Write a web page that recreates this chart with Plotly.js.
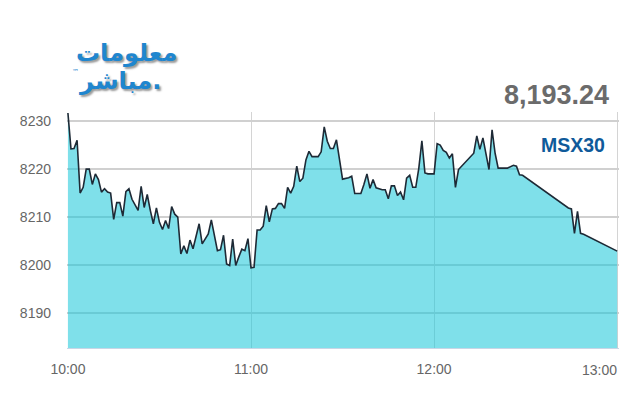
<!DOCTYPE html>
<html>
<head>
<meta charset="utf-8">
<script src="https://cdn.plot.ly/plotly-3.0.1.min.js"></script>
<style>html,body{margin:0;padding:0;background:#fff;}#chart{width:640px;height:400px;}</style>
</head>
<body>
<div id="chart"></div>
<script>
const times = ["10:00","10:01","10:02","10:03","10:04","10:05","10:06","10:07","10:08","10:09",
"10:10","10:11","10:12","10:13","10:14","10:15","10:16","10:17","10:18","10:19",
"10:20","10:21","10:23","10:24","10:25","10:26","10:27","10:28","10:29","10:30",
"10:31","10:32","10:33","10:34","10:35","10:36","10:37","10:38","10:39","10:40",
"10:41","10:43","10:44","10:46","10:47","10:48","10:49","10:50","10:51","10:52",
"10:53","10:54","10:55","10:56","10:57","10:58","10:59","11:00","11:01","11:02",
"11:03","11:04","11:05","11:06","11:07","11:08","11:09","11:10","11:11","11:12",
"11:13","11:14","11:15","11:16","11:17","11:18","11:19","11:20","11:22","11:23",
"11:24","11:25","11:26","11:27","11:28","11:29","11:30","11:32","11:33","11:34",
"11:36","11:37","11:38","11:39","11:40","11:41","11:43","11:44","11:45","11:46",
"11:47","11:48","11:49","11:50","11:51","11:52","11:53","11:54","11:55","11:56",
"11:57","11:58","12:00","12:01","12:02","12:03","12:04","12:05","12:06","12:07",
"12:08","12:13","12:14","12:15","12:16","12:18","12:19","12:20","12:21","12:24",
"12:26","12:27","12:28","12:29","12:44","12:45","12:46","12:47","12:48","12:49",
"13:00"];
const values = [8231.7,8224.2,8224.3,8226.0,8215.0,8216.2,8220.0,8220.0,8216.8,8219.0,
8217.8,8215.2,8215.9,8215.2,8215.0,8209.5,8213.0,8213.0,8210.2,8215.3,
8215.9,8213.7,8211.4,8216.4,8212.0,8214.7,8211.4,8208.6,8211.9,8208.9,
8207.4,8209.3,8207.6,8212.2,8210.6,8210.0,8202.3,8204.0,8202.4,8205.2,
8203.4,8208.6,8204.4,8206.5,8209.4,8206.2,8203.0,8203.2,8206.2,8200.2,
8199.9,8205.4,8199.9,8201.7,8203.3,8203.0,8205.5,8199.4,8199.5,8207.3,
8207.3,8208.1,8212.4,8209.0,8211.7,8211.8,8212.8,8212.8,8211.8,8216.2,
8215.0,8216.4,8220.6,8217.4,8218.1,8221.9,8223.7,8222.6,8222.6,8223.6,
8228.8,8225.8,8224.3,8224.3,8226.1,8222.0,8217.9,8218.2,8218.5,8214.9,
8214.9,8216.8,8219.0,8216.0,8217.8,8216.1,8215.7,8215.7,8213.8,8216.5,
8216.5,8214.5,8215.2,8213.6,8218.1,8218.7,8216.2,8216.2,8220.2,8225.9,
8219.2,8219.0,8219.0,8225.3,8225.0,8223.9,8223.5,8222.3,8223.2,8216.2,
8219.9,8223.3,8226.9,8224.1,8226.5,8219.9,8228.2,8223.3,8220.2,8220.2,
8220.8,8220.6,8218.8,8218.7,8211.9,8211.7,8206.6,8211.2,8206.6,8206.4,
8202.9];
const xTickTimes = ["10:00","11:00","12:00","13:00"];
const yTicks = [8190,8200,8210,8220,8230];
const lastValueText = "8,193.24";
const indexName = "MSX30";
const logoLine1 = "معلومات";
const logoLine2 = "مباشر.";

function toMin(t){const p=t.split(":");return (+p[0]-10)*60+(+p[1]);}
const xs = times.map(toMin);
const xt = xTickTimes.map(toMin);

const sans = "Liberation Sans, Arial, sans-serif";

const trace = {
  x: xs, y: values, type: "scatter", mode: "lines",
  line: {color: "#1e2a36", width: 1.6},
  fill: "tozeroy", fillcolor: "rgba(22,199,217,0.55)",
  hoverinfo: "skip"
};

const layout = {
  width: 640, height: 400,
  margin: {l: 67, r: 21, t: 112, b: 52, pad: 0},
  paper_bgcolor: "#ffffff", plot_bgcolor: "#ffffff",
  showlegend: false,
  xaxis: {
    range: [-0.3, 180.6], tickvals: xt,
    ticktext: xTickTimes.map((t,i)=> i===xTickTimes.length-1 ? "" : t),
    showgrid: true, gridcolor: "#d4d4d4", gridwidth: 1,
    zeroline: false, showline: true, linecolor: "#c8d6e6", linewidth: 1,
    ticks: "", ticklabelstandoff: 8,
    tickfont: {family: sans, size: 14, color: "#666666"},
    fixedrange: true
  },
  yaxis: {
    range: [8182.7, 8231.9], tickvals: yTicks,
    showgrid: true, gridcolor: "#d0d0d0", gridwidth: 1.5,
    zeroline: false, showline: false, ticks: "", ticklabelstandoff: 15,
    tickfont: {family: sans, size: 14, color: "#666666"},
    fixedrange: true
  },
  annotations: [
    {xref: "paper", yref: "paper", x: 1.0, y: -0.093, xanchor: "right", yanchor: "middle",
     text: xTickTimes[xTickTimes.length-1], showarrow: false,
     font: {family: sans, size: 14, color: "#666666"}},
    {xref: "paper", yref: "paper", x: 0.9855, y: 1.074, xanchor: "right", yanchor: "middle",
     text: "<b>" + lastValueText + "</b>", showarrow: false,
     font: {family: sans, size: 27, color: "#6b6b6b"}},
    {xref: "paper", yref: "paper", x: 0.978, y: 0.86, xanchor: "right", yanchor: "middle",
     text: "<b>" + indexName + "</b>", showarrow: false,
     font: {family: sans, size: 19.5, color: "#0f5a9a"}},
    {xref: "paper", yref: "paper", x: 0.1069, y: 1.25, xanchor: "center", yanchor: "middle",
     text: "<b>" + logoLine1 + "</b>", showarrow: false,
     font: {family: "DejaVu Sans", size: 24, color: "#1f86cf", shadow: "2px 2px 2px #9a9a9a"}},
    {xref: "paper", yref: "paper", x: 0.096, y: 1.13, xanchor: "center", yanchor: "middle",
     text: "<b>" + logoLine2 + "</b>", showarrow: false,
     font: {family: "DejaVu Sans", size: 24, color: "#1f86cf", shadow: "2px 2px 2px #9a9a9a"}},
    {xref: "paper", yref: "paper", x: 0.016, y: 1.169, xanchor: "center", yanchor: "middle",
     text: "™", showarrow: false,
     font: {family: "DejaVu Sans", size: 7, color: "#1f86cf"}}
  ]
};

Plotly.newPlot("chart", [trace], layout, {displayModeBar: false, staticPlot: true});
</script>
</body>
</html>
